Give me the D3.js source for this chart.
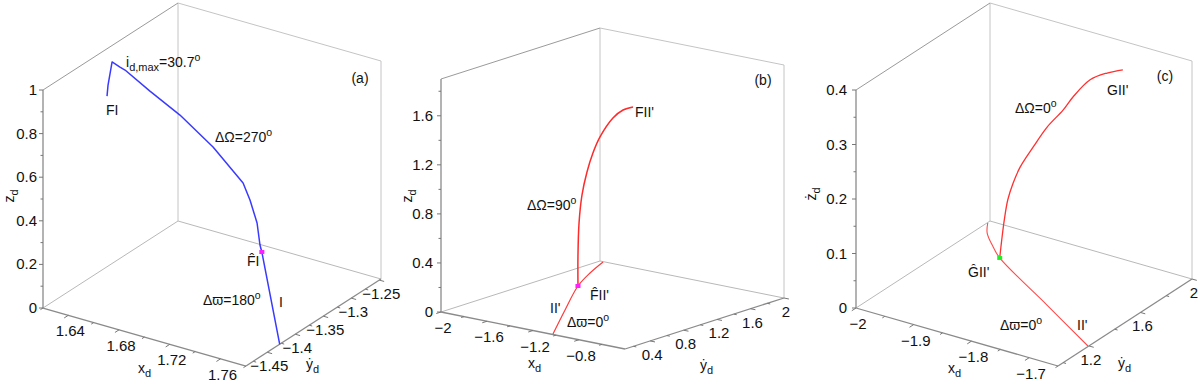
<!DOCTYPE html>
<html><head><meta charset="utf-8">
<script src="https://cdn.jsdelivr.net/npm/d3@7/dist/d3.min.js"></script>
<style>
body{margin:0;background:#fff;}
svg{display:block;font-family:"Liberation Sans",Arial,"DejaVu Sans",sans-serif;}
</style></head><body>
<svg id="chart" width="1200" height="384"></svg>
<script>
// ---------------- data ----------------
// panel (a)
const aXDomain = [1.62, 1.78], aYDomain = [-1.488, -1.247], aZDomain = [0, 1];
const aXTicks = [1.64, 1.68, 1.72, 1.76], aXMinor = [1.62, 1.66, 1.70, 1.74, 1.78];
const aYTicks = [-1.45, -1.4, -1.35, -1.3, -1.25], aYMinor = [-1.475, -1.425, -1.375, -1.325, -1.275];
const aZTicks = [0, 0.2, 0.4, 0.6, 0.8, 1], aZMinor = [0.1, 0.3, 0.5, 0.7, 0.9];
const aCurveX = [1.6226, 1.6234, 1.6266, 1.6328, 1.6368, 1.6575, 1.6822, 1.7104, 1.7362, 1.7427, 1.7504, 1.7538, 1.7558, 1.78];
const aCurveY = [-1.3796, -1.3796, -1.3796, -1.3796, -1.3796, -1.382, -1.3844, -1.3892, -1.394, -1.3964, -1.4012, -1.4037, -1.4049, -1.4278];
const aCurveZ = [0.797, 0.849, 0.960, 0.947, 0.940, 0.882, 0.817, 0.725, 0.611, 0.548, 0.463, 0.372, 0.345, 0.0];
const aMark = [1.7558, -1.4049, 0.345];

// panel (b)
const bXDomain = [-2, -0.4], bYDomain = [0.1, 2], bZDomain = [0, 1.9];
const bXTicks = [-2, -1.6, -1.2, -0.8], bXMinor = [-1.8, -1.4, -1.0, -0.6];
const bYTicks = [0.4, 0.8, 1.2, 1.6, 2], bYMinor = [0.2, 0.6, 1.0, 1.4, 1.8];
const bZTicks = [0, 0.4, 0.8, 1.2, 1.6], bZMinor = [0.2, 0.6, 1.0, 1.4, 1.8];
const bOmegaX = [-1.701, -1.694, -1.678, -1.645, -1.595, -1.536, -1.468, -1.348, -1.254, -1.160];
const bOmegaY = [1.326, 1.316, 1.307, 1.297, 1.288, 1.278, 1.269, 1.259, 1.250, 1.240];
const bOmegaZ = [0, 0.240, 0.522, 0.759, 0.958, 1.126, 1.272, 1.451, 1.536, 1.581];
const bIIX = [-1.035, -1.371, -1.701, -1.853, -1.967];
const bIIY = [0.112, 0.718, 1.326, 1.679, 1.991];
const bIIZ = [0, 0, 0, 0, 0];
const bMark = [-1.701, 1.326, 0];

// panel (c)
const cXDomain = [-2, -1.65], cYDomain = [0.96, 2], cZDomain = [0, 0.4];
const cXTicks = [-2, -1.9, -1.8, -1.7], cXMinor = [-1.95, -1.85, -1.75, -1.65];
const cYTicks = [1.2, 1.6, 2], cYMinor = [1.0, 1.4, 1.8];
const cZTicks = [0, 0.1, 0.2, 0.3, 0.4], cZMinor = [0.05, 0.15, 0.25, 0.35];
const cOmegaX = [-1.920, -1.918, -1.915, -1.910, -1.902, -1.892, -1.872, -1.851, -1.827, -1.812, -1.787, -1.760, -1.735];
const cOmegaY = [1.717, 1.724, 1.730, 1.735, 1.740, 1.750, 1.761, 1.776, 1.792, 1.802, 1.823, 1.834, 1.844];
const cOmegaZ = [0, 0.033, 0.069, 0.107, 0.139, 0.170, 0.211, 0.252, 0.288, 0.315, 0.351, 0.370, 0.382];
const cIIX = [-1.651, -1.776, -1.920, -1.948, -1.981, -1.999];
const cIIY = [1.197, 1.439, 1.717, 1.792, 1.893, 1.978];
const cIIZ = [0, 0, 0, 0, 0, 0];
const cMark = [-1.920, 1.717, 0];

// ---------------- layout ----------------
const panels = [
  {o:[43,308], ux:[203,58], uy:[135,-87], uz:[0,-218],
   xDomain:aXDomain, yDomain:aYDomain, zDomain:aZDomain,
   xTicks:aXTicks, xMinor:aXMinor, yTicks:aYTicks, yMinor:aYMinor, zTicks:aZTicks, zMinor:aZMinor,
   fmt:d3.format(""), zGap:6, xLab:[138,373], yLab:[306,369], zLab:[14,196], zName:"z",
   curves:[{X:aCurveX,Y:aCurveY,Z:aCurveZ,color:"#3a3aff",w:1.5,curve:d3.curveLinear}],
   mark:{p:aMark,color:"#ff20ff"}},
  {o:[441,312], ux:[184,37], uy:[159,-51], uz:[0,-233],
   xDomain:bXDomain, yDomain:bYDomain, zDomain:bZDomain,
   xTicks:bXTicks, xMinor:bXMinor, yTicks:bYTicks, yMinor:bYMinor, zTicks:bZTicks, zMinor:bZMinor,
   fmt:d3.format(""), zGap:8, xLab:[528,368], yLab:[700,370], zLab:[412,196], zName:"z",
   curves:[{X:bOmegaX,Y:bOmegaY,Z:bOmegaZ,color:"#ff2a2a",w:1.5,curve:d3.curveCatmullRom.alpha(0.5)},
           {X:bIIX,Y:bIIY,Z:bIIZ,color:"#ff3a3a",w:1.2,curve:d3.curveCatmullRom.alpha(0.5)}],
   mark:{p:bMark,color:"#ff20ff"}},
  {o:[856,308], ux:[202,58], uy:[134,-87], uz:[0,-218],
   xDomain:cXDomain, yDomain:cYDomain, zDomain:cZDomain,
   xTicks:cXTicks, xMinor:cXMinor, yTicks:cYTicks, yMinor:cYMinor, zTicks:cZTicks, zMinor:cZMinor,
   fmt:d3.format(""), zGap:9, xLab:[948,373], yLab:[1118,368], zLab:[816,194], zName:"\u017C",
   curves:[{X:cOmegaX,Y:cOmegaY,Z:cOmegaZ,color:"#ff3030",w:1.3,curve:d3.curveCatmullRom.alpha(0.5)},
           {X:cIIX,Y:cIIY,Z:cIIZ,color:"#ff4a4a",w:1.1,curve:d3.curveCatmullRom.alpha(0.5)}],
   mark:{p:cMark,color:"#22ee22"}}
];

const svg = d3.select("#chart");
const FS = 14, TFS = 15;

function rich(g, x, y, parts, anchor){
  const t = g.append("text").attr("x", x).attr("y", y).attr("font-size", FS)
    .attr("fill", "#111").attr("text-anchor", anchor || "start");
  let shift = 0;
  parts.forEach(([s, k]) => {
    const ts = t.append("tspan").text(s);
    let target = 0, fs = FS;
    if (k === "sub") { target = 4; fs = 11; }
    if (k === "sup") { target = -6; fs = 10.5; }
    ts.attr("dy", target - shift).attr("font-size", fs);
    shift = target;
  });
  return t;
}

panels.forEach(P => {
  const sx = d3.scaleLinear().domain(P.xDomain).range([0,1]);
  const sy = d3.scaleLinear().domain(P.yDomain).range([0,1]);
  const sz = d3.scaleLinear().domain(P.zDomain).range([0,1]);
  const f = (a,b,c) => [P.o[0]+a*P.ux[0]+b*P.uy[0]+c*P.uz[0], P.o[1]+a*P.ux[1]+b*P.uy[1]+c*P.uz[1]];
  const proj = (x,y,z) => f(sx(x), sy(y), sz(z));
  const g = svg.append("g");

  const edges = [
    [[0,1,0],[0,1,1],"#c4c4c4",1],
    [[0,1,1],[1,1,1],"#c4c4c4",1],
    [[1,1,0],[1,1,1],"#c4c4c4",1],
    [[0,0,0],[0,1,0],"#b8b8b8",1],
    [[0,1,0],[1,1,0],"#b8b8b8",1],
    [[0,0,1],[0,1,1],"#9a9a9a",1],
    [[0,0,0],[0,0,1],"#8a8a8a",1.3],
    [[0,0,0],[1,0,0],"#8a8a8a",1.3],
    [[1,0,0],[1,1,0],"#8a8a8a",1.3]
  ];
  edges.forEach(([p,q,c,w]) => {
    const A = f(...p), B = f(...q);
    g.append("line").attr("x1",A[0]).attr("y1",A[1]).attr("x2",B[0]).attr("y2",B[1])
      .attr("stroke",c).attr("stroke-width",w);
  });

  const norm = v => { const l = Math.hypot(v[0],v[1]); return [v[0]/l, v[1]/l]; };
  const dx = norm([-P.uy[0], -P.uy[1]]);
  const dyv = norm(P.ux);
  const tick = (pt, d, len) => g.append("line").attr("x1",pt[0]).attr("y1",pt[1])
      .attr("x2",pt[0]+d[0]*len).attr("y2",pt[1]+d[1]*len).attr("stroke","#777").attr("stroke-width",1);

  // x axis
  P.xMinor.forEach(v => tick(f(sx(v),0,0), dx, 3));
  P.xTicks.forEach(v => {
    const pt = f(sx(v),0,0); tick(pt, dx, 5);
    g.append("text").attr("x",pt[0]+2).attr("y",pt[1]+21).attr("text-anchor","middle")
      .attr("font-size",TFS).attr("fill","#111").text(P.fmt(v));
  });
  // y axis
  P.yMinor.forEach(v => tick(f(1,sy(v),0), dyv, 3));
  P.yTicks.forEach(v => {
    const pt = f(1,sy(v),0); tick(pt, dyv, 5);
    g.append("text").attr("x",pt[0]+2).attr("y",pt[1]+19).attr("text-anchor","middle")
      .attr("font-size",TFS).attr("fill","#111").text(P.fmt(v));
  });
  // z axis
  P.zMinor.forEach(v => tick(f(0,0,sz(v)), [-1,0], 2.5));
  P.zTicks.forEach(v => {
    const pt = f(0,0,sz(v)); tick(pt, [-1,0], 4);
    g.append("text").attr("x",pt[0]-P.zGap).attr("y",pt[1]+5).attr("text-anchor","end")
      .attr("font-size",TFS).attr("fill","#111").text(P.fmt(v));
  });

  // axis titles
  rich(g, P.xLab[0], P.xLab[1], [["x",""],["d","sub"]]);
  rich(g, P.yLab[0], P.yLab[1], [["\u1E8F",""],["d","sub"]]);
  rich(g, 0, 0, [[P.zName,""],["d","sub"]], "middle")
    .attr("transform", `translate(${P.zLab[0]},${P.zLab[1]}) rotate(-90)`);

  // curves
  P.curves.forEach(C => {
    const pts = C.X.map((x,i) => proj(x, C.Y[i], C.Z[i]));
    g.append("path").attr("d", d3.line().curve(C.curve)(pts))
      .attr("fill","none").attr("stroke",C.color).attr("stroke-width",C.w)
      .attr("stroke-linejoin","round");
  });
  const m = proj(...P.mark.p);
  g.append("rect").attr("x",m[0]-2.5).attr("y",m[1]-2).attr("width",5).attr("height",4)
    .attr("fill",P.mark.color);
});

// annotations
const an = svg.append("g");
// (a)
rich(an, 126, 67, [["i",""],["d,max","sub"],["=30.7",""],["o","sup"]]);
rich(an, 360, 83, [["(a)",""]], "middle");
rich(an, 215, 142, [["\u0394\u03A9=270",""],["o","sup"]]);
rich(an, 106, 115, [["FI",""]]);
rich(an, 247, 266, [["F\u0302I",""]]);
rich(an, 203, 305, [["\u0394\u03D6=180",""],["o","sup"]]);
rich(an, 279, 307, [["I",""]]);
// (b)
rich(an, 527, 210, [["\u0394\u03A9=90",""],["o","sup"]]);
rich(an, 635, 117, [["FII'",""]]);
rich(an, 763, 85, [["(b)",""]], "middle");
rich(an, 590, 300, [["F\u0302II'",""]]);
rich(an, 550, 313, [["II'",""]]);
rich(an, 567, 327, [["\u0394\u03D6=0",""],["o","sup"]]);
// (c)
rich(an, 1015, 113, [["\u0394\u03A9=0",""],["o","sup"]]);
rich(an, 1107, 95, [["GII'",""]]);
rich(an, 1165, 81, [["(c)",""]], "middle");
rich(an, 968, 277, [["\u011CII'",""]]);
rich(an, 1000, 330, [["\u0394\u03D6=0",""],["o","sup"]]);
rich(an, 1077, 330, [["II'",""]]);
</script>
</body></html>
